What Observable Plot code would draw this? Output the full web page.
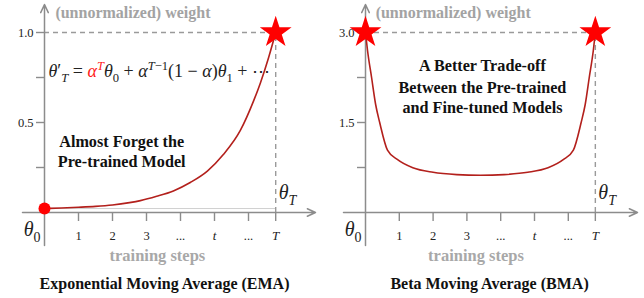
<!DOCTYPE html>
<html>
<head>
<meta charset="utf-8">
<script src="https://cdn.jsdelivr.net/npm/d3@7"></script>
<script src="https://cdn.jsdelivr.net/npm/@observablehq/plot@0.6"></script>
<style>
  html, body { margin: 0; padding: 0; background: #fff; }
  #wrap { display: flex; width: 644px; height: 298px; }
  svg { display: block; }
  svg text, svg tspan { font-family: "Liberation Serif", "Times New Roman", serif !important; }
</style>
</head>
<body>
<div id="wrap"></div>
<script>
// ---------- data ----------
const T = 6.8; // position of step T on the x axis
const xTickPos = [1, 2, 3, 4, 5, 6, T];
const xTickLabels = ["1", "2", "3", "...", "t", "...", "T"];

const emaSteps  = [0, 0.5, 1, 1.5, 2, 2.5, 2.82, 3.3, 3.79, 4.3, 4.79, 5.26, 5.76, 6.15, 6.35, 6.59, 6.8];
const emaWeight = [0.022, 0.025, 0.029, 0.034, 0.042, 0.055, 0.066, 0.09, 0.12, 0.168, 0.23, 0.322, 0.456, 0.62, 0.72, 0.86, 1.0];
const emaYTicks = [0.25, 0.5, 0.75, 1.0];
const emaYLabels = ["", "0.5", "", "1.0"];

const bmaSteps  = [0, 0.06, 0.18, 0.3, 0.42, 0.65, 0.95, 1.4, 2.0, 2.7, 3.4, 4.1, 4.8, 5.4, 5.85, 6.15, 6.38, 6.5, 6.62, 6.74, 6.8];
const bmaWeight = [3.0, 2.7, 2.25, 1.8, 1.5, 1.04, 0.88, 0.745, 0.67, 0.632, 0.62, 0.632, 0.67, 0.745, 0.88, 1.04, 1.5, 1.8, 2.25, 2.7, 3.0];
const bmaYTicks = [0.75, 1.5, 2.25, 3.0];
const bmaYLabels = ["", "1.5", "", "3.0"];

const yTitle = "(unnormalized) weight";
const xTitle = "training steps";
const emaTitle = "Exponential Moving Average (EMA)";
const bmaTitle = "Beta Moving Average (BMA)";
const emaNote = ["Almost Forget the", "Pre-trained Model"];
const bmaNote = ["A Better Trade-off", "Between the Pre-trained", "and Fine-tuned Models"];

// ---------- helpers ----------
const SERIF = "'Liberation Serif', 'Times New Roman', serif";
const AXIS = "#8c8c8c";
const CURVE = "#b3201c";
const isItalic = d => d.label === "t" || d.label === "T";

function rich(textEl, segs, fs) {
  const sel = d3.select(textEl);
  sel.text(null);
  let shift = 0;
  for (const s of segs) {
    const target = s.sub ? 0.28 : s.sup ? -0.42 : 0;
    const ts = sel.append("tspan").text(s.t);
    const dy = (target - shift) * fs;
    if (dy) ts.attr("dy", dy);
    shift = target;
    if (s.sub || s.sup) ts.attr("font-size", fs * 0.7);
    if (s.i) ts.attr("font-style", "italic");
    if (s.fill) ts.attr("fill", s.fill);
  }
}

function panel(cfg) {
  const {steps, weight, yTicks, yLabels, pxPerX, pxPerY, x0px, y0px, ymax} = cfg;
  const W = 322, H = 298;
  const xd = [-x0px / pxPerX, (W - x0px) / pxPerX];
  const yd = [-(H - y0px) / pxPerY, y0px / pxPerY];
  const ux = 1 / pxPerX, uy = 1 / pxPerY; // one pixel in data units
  const series = steps.map((s, i) => ({s, w: weight[i]}));
  const tickData = xTickPos.map((p, i) => ({p, label: xTickLabels[i]}));
  const yTickData = yTicks.map((v, i) => ({v, label: yLabels[i]}));
  const xLeft = -22 * ux, xRight = (315 - x0px) * ux;
  const yBottom = -(245 - y0px) * uy, yTop = (y0px - 4) * uy;

  const marks = [
    cfg.baseline ? Plot.ruleY([weight[0]], {x1: 0, x2: T, stroke: "#d0d0d0", strokeWidth: 1}) : null,
    Plot.ruleY([ymax], {x1: 0, x2: T, stroke: "#9a9a9a", strokeWidth: 1.4, strokeDasharray: "5,4"}),
    Plot.ruleX([T], {y1: 0, y2: ymax, stroke: "#9a9a9a", strokeWidth: 1.4, strokeDasharray: "5,4"}),
    Plot.arrow([0], {x1: xLeft, y1: 0, x2: xRight, y2: 0, stroke: AXIS, strokeWidth: 1.5, headLength: 9, headAngle: 50}),
    Plot.arrow([0], {x1: 0, y1: yBottom, x2: 0, y2: yTop, stroke: AXIS, strokeWidth: 1.5, headLength: 9, headAngle: 50}),
    Plot.ruleX(tickData, {x: "p", y1: 0, y2: -9 * uy, stroke: AXIS, strokeWidth: 1.4}),
    Plot.ruleY(yTickData, {y: "v", x1: -8 * ux, x2: 0, stroke: AXIS, strokeWidth: 1.4}),
    Plot.text(tickData.filter(d => !isItalic(d)), {x: "p", y: -23 * uy, text: "label", fontFamily: SERIF, fontSize: 12.5, fill: "#222"}),
    Plot.text(tickData.filter(isItalic), {x: "p", y: -23 * uy, text: "label", fontFamily: SERIF, fontSize: 13, fontStyle: "italic", fill: "#222"}),
    Plot.text(yTickData, {x: -11 * ux, y: "v", text: "label", textAnchor: "end", fontFamily: SERIF, fontSize: 12.5, fill: "#222"}),
    Plot.line(series, {x: "s", y: "w", stroke: CURVE, strokeWidth: 1.6, curve: "monotone-x"}),
    Plot.text([yTitle], {x: cfg.yTitleX, y: (y0px - 12) * uy, text: d => d, textAnchor: "start", fontFamily: SERIF, fontWeight: "bold", fontSize: 16, fill: "#a3a3a3"}),
    Plot.text([xTitle], {x: cfg.xTitleX, y: -(255 - y0px) * uy, text: d => d, fontFamily: SERIF, fontWeight: "bold", fontSize: 16.5, fill: "#a8a8a8"}),
    Plot.text([cfg.title], {x: cfg.titleX, y: -(283 - y0px) * uy, text: d => d, fontFamily: SERIF, fontWeight: "bold", fontSize: 16, fill: "#111"}),
    Plot.text(cfg.note, {x: cfg.noteX, y: (d, i) => cfg.noteY[i], text: d => d, textAnchor: "middle", fontFamily: SERIF, fontWeight: "bold", fontSize: 16.2, fill: "#111"}),
    Plot.text(["θ0"], {x: -4 * ux, y: -(229 - y0px) * uy, text: d => d, textAnchor: "end", fontFamily: SERIF, fontSize: 20, fill: "#222", className: "theta0"}),
    Plot.text(["θT"], {x: T + 3 * ux, y: (y0px - 192) * uy, text: d => d, textAnchor: "start", fontFamily: SERIF, fontSize: 20, fill: "#222", className: "thetaT"}),
    cfg.formula ? Plot.text(["F"], {x: 4 * ux, y: (y0px - 71) * uy, text: d => d, textAnchor: "start", fontFamily: SERIF, fontSize: 18, fill: "#222", className: "formula"}) : null,
    ...cfg.endpoints
  ].filter(Boolean);

  const svg = Plot.plot({
    width: W, height: H,
    marginTop: 0, marginBottom: 0, marginLeft: 0, marginRight: 0,
    x: {domain: xd, axis: null},
    y: {domain: yd, axis: null},
    style: {background: "#fff", overflow: "visible"},
    marks
  });

  d3.select(svg).selectAll("g.theta0 text").each(function() {
    rich(this, [{t: "θ", i: true}, {t: "0", sub: true}], 20);
  });
  d3.select(svg).selectAll("g.thetaT text").each(function() {
    rich(this, [{t: "θ", i: true}, {t: "T", sub: true, i: true}], 20);
  });
  d3.select(svg).selectAll("g.formula text").each(function() {
    rich(this, [
      {t: "θ", i: true}, {t: "′"}, {t: "T", sub: true, i: true},
      {t: " = "}, {t: "α", i: true, fill: "#ff1a1a"}, {t: "T", sup: true, i: true, fill: "#ff1a1a"},
      {t: "θ", i: true}, {t: "0", sub: true},
      {t: " + "}, {t: "α", i: true}, {t: "T", sup: true, i: true}, {t: "−1", sup: true},
      {t: "(1 − "}, {t: "α", i: true}, {t: ")"}, {t: "θ", i: true}, {t: "1", sub: true},
      {t: " + ⋯"}
    ], 18);
  });
  return svg;
}

const wrap = document.getElementById("wrap");

wrap.appendChild(panel({
  steps: emaSteps, weight: emaWeight, yTicks: emaYTicks, yLabels: emaYLabels,
  pxPerX: 34, pxPerY: 180, x0px: 44, y0px: 212, ymax: 1.0,
  baseline: true, formula: true,
  yTitleX: 0.32, xTitleX: 3.32, titleX: 3.53, title: emaTitle,
  note: emaNote, noteX: 2.27, noteY: [0.39, 0.28],
  endpoints: [
    Plot.dot([{s: emaSteps[0], w: emaWeight[0]}], {x: "s", y: "w", r: 6, fill: "#ff0000", stroke: "none"}),
    Plot.dot([{s: T, w: 1.0}], {x: "s", y: "w", r: 10, symbol: "star", fill: "#ff0000", stroke: "none"})
  ]
}));

wrap.appendChild(panel({
  steps: bmaSteps, weight: bmaWeight, yTicks: bmaYTicks, yLabels: bmaYLabels,
  pxPerX: 33.8, pxPerY: 60, x0px: 43, y0px: 212, ymax: 3.0,
  baseline: false, formula: false,
  yTitleX: 0.3, xTitleX: 3.27, titleX: 3.67, title: bmaTitle,
  note: bmaNote, noteX: 3.46, noteY: [2.45, 2.08, 1.75],
  endpoints: [
    Plot.dot([{s: 0, w: 3.0}, {s: T, w: 3.0}], {x: "s", y: "w", r: 10, symbol: "star", fill: "#ff0000", stroke: "none"})
  ]
}));
</script>
</body>
</html>
